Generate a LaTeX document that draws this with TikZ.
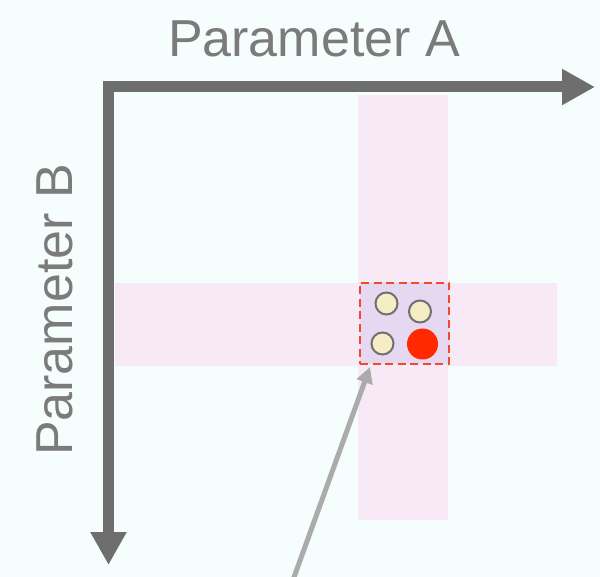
\documentclass[tikz,border=0pt]{standalone}
\usepackage{fontspec}
\setmainfont{Liberation Sans}
\usetikzlibrary{arrows.meta}
\definecolor{bgcol}{HTML}{F5FEFD}
\definecolor{axiscol}{HTML}{6E6E6E}
\definecolor{labelcol}{HTML}{7B7B7B}
\definecolor{bandcol}{HTML}{F7E9F5}
\definecolor{crosscol}{HTML}{E6D8F0}
\definecolor{boxcol}{HTML}{F04A2A}
\definecolor{dotfill}{HTML}{F6EDC6}
\definecolor{dotline}{HTML}{707070}
\definecolor{hitcol}{HTML}{FF2A00}
\definecolor{pointcol}{HTML}{ABABAB}
\tikzset{
  axis/.style={draw=axiscol, line width=11pt, line cap=butt, line join=miter,
    -{Triangle[length=33pt,width=34pt]}},
  axislabel/.style={text=labelcol, font=\fontsize{52}{60}\selectfont, inner sep=0pt},
  band/.style={fill=bandcol, draw=none},
  sample/.style={circle, fill=dotfill, draw=dotline, line width=2pt, minimum size=22pt, inner sep=0pt},
  hit/.style={circle, fill=hitcol, minimum size=31pt, inner sep=0pt},
  pointer/.style={draw=pointcol, line width=5pt, -{Triangle[length=16pt,width=16pt]}},
}
\begin{document}
\begin{tikzpicture}[x=1pt,y=-1pt]
  % page
  \fill[bgcol] (0,0) rectangle (600,577);
  \useasboundingbox (0,0) rectangle (600,577);

  % bands of fixed parameter values
  \fill[band] (358,95) rectangle (448,520);
  \fill[band] (115,283) rectangle (557,366);
  \fill[crosscol] (360,283) rectangle (449,364);
  \node[draw=boxcol, line width=2.6pt, dash pattern=on 8pt off 4.5pt,
        minimum width=89pt, minimum height=81pt, inner sep=0pt] (cell) at (404.5,323.5) {};

  % axes
  \coordinate (origin) at (108.5,87);
  \coordinate (aend) at (595,87);
  \coordinate (bend) at (108.5,565);
  \draw[axis] (103,87) -- (aend);
  \draw[axis] (108.5,81.5) -- (bend);

  \node[axislabel, anchor=base] (labA) at (314,57) {Parameter A};
  \node[axislabel, anchor=base, rotate=90] (labB) at (72,310) {Parameter B};

  % samples inside the cell
  \node[sample] (s1) at (386.5,303.5) {};
  \node[sample] (s2) at (420,311.5) {};
  \node[sample] (s3) at (382.5,343.5) {};
  \node[hit] (s4) at (422.5,344) {};

  % pointer from below
  \coordinate (pstart) at (293,580);
  \coordinate (ptip) at (370,367);
  \draw[pointer] (pstart) -- (ptip);
\end{tikzpicture}
\end{document}
